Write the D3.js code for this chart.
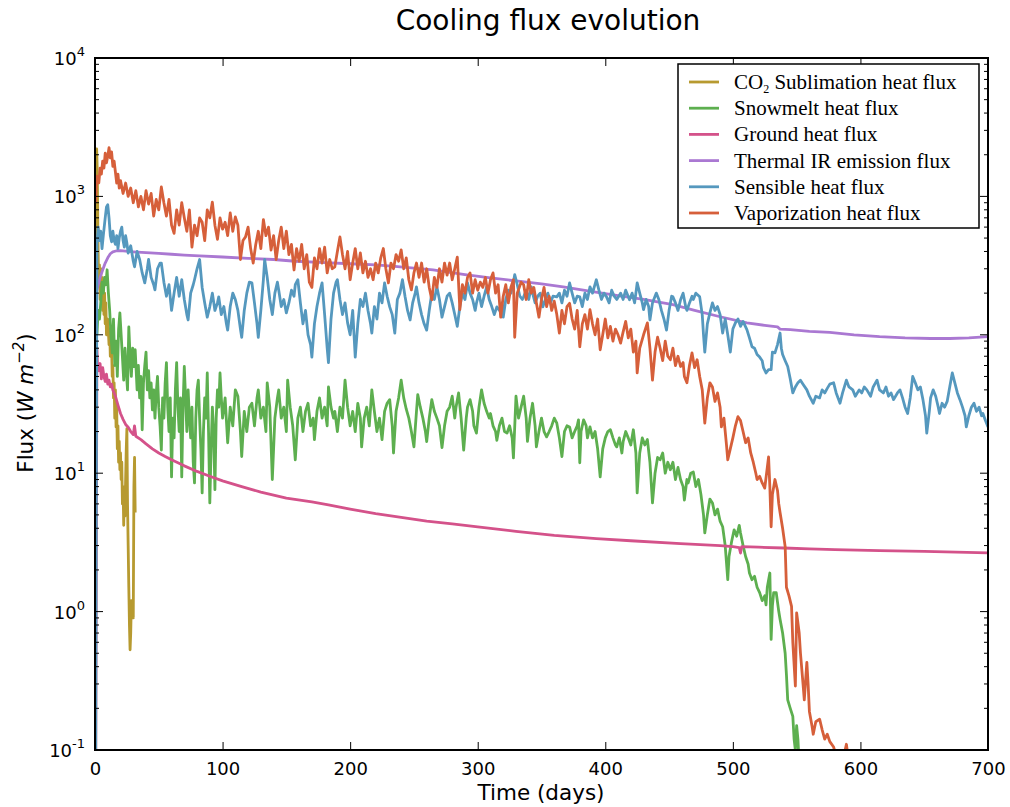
<!DOCTYPE html>
<html>
<head>
<meta charset="utf-8">
<script src="https://cdn.jsdelivr.net/npm/d3@7"></script>
<style>
  body { margin: 0; background: #fff; }
  text { font-family: "DejaVu Sans", sans-serif; }
  text.legend { font-family: "Liberation Serif", "Times New Roman", serif; }
</style>
</head>
<body>
<div id="chart"></div>
<script>
// series as [day, flux W m^-2]
var co2Sublimation = [[0.3,120],[0.8,800],[1.3,2200],[1.8,1500],[2.3,500],[2.8,250],[3.5,320],[4,180],[4.5,300],[5,170],[5.5,260],[6,150],[6.5,230],[7,140],[7.5,200],[8,120],[8.5,170],[9,100],[10,130],[11,85],[11.5,110],[12,70],[13,82],[13.5,50],[14,60],[14.5,35],[15,45],[15.5,25],[16,40],[16.5,21.6],[17,30],[17.5,15],[18,22],[18.5,12],[19,17],[19.5,10.6],[20,14],[20.5,9],[21,12],[21.5,6],[22,8],[22.5,4.2],[23,7],[23.5,4.9],[24,9],[24.5,15],[25,21],[25.5,6],[26,3],[26.5,1.5],[27,0.8],[27.5,0.53],[28,0.7],[28.5,1.2],[29,0.9],[29.5,1.1],[30,0.9],[30.5,8],[31,13],[31.5,5.2]];

var snowmelt = [[1.5,100],[2.5,150],[3.5,130],[4.5,170],[5.5,240],[6.5,200],[7.5,260],[8.5,230],[9.5,295],[10.5,200],[11.5,150],[12.5,100],[13.5,74],[14.5,130],[15.5,60],[16.5,90],[17.5,50],[18.5,110],[19.5,144],[20.5,100],[21.5,69],[22.5,47],[23.5,80],[24.5,55],[25.5,40],[26.5,114],[27.5,70],[28.5,50],[29.5,80],[30.5,59],[31.5,78],[33,40],[34,60],[35,35],[36,50],[37,20.6],[38,45],[39,60],[40,75],[41,40],[42,55],[43,35],[44,45],[45,28.7],[46,40],[47,25],[48,38],[49,50],[50,30],[51,22],[52,14.7],[53,35],[54,25],[55,45],[56,63],[57,30],[58,20],[59,35],[60,9.4],[61,25],[62,18],[63,40],[64,63],[65,30],[66,20],[67,35],[68,9.4],[69,30],[70,59],[71,35],[72,20],[73,40],[74,25],[75,18],[76,30],[77,12],[78,8.5],[79,25],[80,40],[81,47],[82,25],[83,15],[84,7.2],[85,20],[86,35],[87,25],[88,53],[89,20],[90,6.1],[91,15],[92,30],[93,20],[94,7.6],[95,25],[96,40],[97,30],[98,53],[99,35],[100,25],[102,35],[104,16.6],[106,30],[108,22],[110,40],[112,36],[114,20],[115,13.2],[117,28],[119,20],[121,30],[123,32],[125,22],[127,35],[128,40],[130,25],[132,30],[134,20],[135,45],[137,30],[139,9],[141,25],[143,35],[144,40],[146,25],[148,30],[150,20],[151,47],[153,30],[155,22],[157,12.5],[159,25],[161,30],[163,20],[165,28],[167,32],[169,22],[171,25],[172,17.5],[174,28],[176,35],[178,25],[180,30],[182,22],[183,42],[185,30],[187,25],[188,28],[190,20],[192,30],[194,25],[196,47],[198,30],[200,22],[202,28],[204,20],[206,32],[208,25],[209,15.5],[211,25],[213,30],[215,22],[217,40],[219,28],[221,20],[223,25],[225,17.5],[227,28],[229,32],[231,34],[233,22],[234,14],[236,28],[238,35],[240,47],[242,35],[244,29],[246,25],[248,20],[250,15.5],[252,28],[253,37],[255,30],[257,25],[259,20],[260,16.9],[262,25],[264,34],[266,28],[268,25],[270,22],[272,15.3],[274,22],[276,28],[278,30],[280,36],[282,25],[283,30],[285,38],[287,25],[289,14.7],[291,25],[292,30],[294,34],[296,28],[297,22],[299,19.5],[301,30],[303,40],[305,32],[307,28],[309,25],[310,27],[312,22],[314,20],[315,17.3],[317,22],[319,25],[321,20],[323,19.5],[325,22],[327,18],[328,12.9],[330,36],[332,25],[334,30],[336,36],[338,25],[339,17],[341,25],[343,32],[345,22],[346,15.5],[348,20],[350,25],[352,20],[354,18.3],[356,20],[358,22],[360,25],[362,23],[364,18],[366,13.2],[368,20],[370,22],[372,21.6],[374,18],[376,20],[378,22],[379,24.3],[380,11.9],[381,20],[383,24.3],[385,22],[386,18],[388,21.6],[390,18],[392,20],[394,15],[396,9.4],[398,15],[400,18],[402,20],[404,20.6],[406,18],[408,16],[409,15.5],[411,18],[413,14],[414,16.9],[416,20],[418,18],[420,16],[422,20.6],[424,14],[425,7.2],[427,14],[429,18],[431,16],[433,17.5],[435,12],[437,6.1],[439,10],[441,13],[443,12.5],[445,14],[447,10],[449,12],[451,10.6],[453,12],[455,9],[457,11],[459,9],[461,8],[462,6.4],[464,9],[465,8.5],[467,10],[469,10.2],[471,8],[473,9],[475,7],[477,5],[478,3.7],[480,5],[482,6.5],[484,6.1],[486,5],[488,5.5],[490,4.5],[492,4.1],[494,3],[496,1.7],[497,2.5],[499,3.2],[501,3.9],[503,3.5],[505,4.2],[506,3.7],[508,3],[510,2.5],[512,2.2],[513,1.9],[515,1.7],[517,1.8],[519,1.5],[521,1.37],[523,1.2],[525,1.3],[526,1.12],[527,1.5],[529,1.9],[530,0.63],[531,1.1],[532,1.37],[534,1.37],[536,1.0],[537,0.88],[539,0.7],[541,0.5],[542,0.35],[543,0.23],[545,0.2],[547,0.175],[548,0.12],[549,0.1],[550,0.15],[551,0.12],[552,0.08],[553,0.05]];

var groundHeat = [[0.5,0.05],[1.5,80],[2,60],[3,55],[4,62],[5,48],[6,58],[7,50],[8,46],[9,52],[10,44],[11,47],[12,42],[13,44],[14,40],[15,38],[16,36],[18,31],[20,27],[22,24.5],[24,22.5],[26,21.5],[28,20],[30,19],[31,22],[32,18.5],[36,17.5],[40,16.3],[45,15],[50,14],[55,13.2],[60,12.5],[65,11.9],[70,11.3],[80,10.3],[90,9.5],[100,8.8],[115,8.0],[130,7.3],[150,6.6],[170,6.2],[183,5.9],[200,5.5],[220,5.1],[240,4.8],[260,4.5],[280,4.3],[300,4.1],[330,3.8],[360,3.55],[393,3.37],[420,3.25],[459,3.1],[490,3.0],[500,2.95],[505,2.9],[506,2.65],[507,2.95],[520,2.92],[540,2.88],[560,2.84],[580,2.8],[615,2.76],[650,2.72],[700,2.66]];

var thermalIR = [[1.5,210],[2.5,230],[4,260],[6,294],[8,330],[10,360],[12,385],[14,398],[17,405],[20,405],[30,398],[40,392],[50,387],[60,382],[70,377],[82,372],[100,365],[120,357],[140,350],[157,340],[180,332],[200,326],[220,320],[235,312],[250,303],[265,294],[290,272],[310,258],[330,245],[350,233],[367,222],[390,205],[410,192],[430,180],[453,165],[470,150],[490,135],[511,122],[525,117],[535,114],[537,110],[545,109],[560,106],[576,104],[595,100],[615,97],[635,95],[655,94],[670,94],[685,95],[700,97]];

var sensibleHeat = [[0.5,0.05],[1.5,450],[2.5,600],[3.5,480],[4.5,560],[5.5,420],[6.5,520],[8,700],[9,840],[10,870],[11,700],[12,520],[13,470],[14,560],[15,480],[16,450],[17,520],[18,420],[19,500],[20,560],[21,600],[22,480],[23,430],[24,520],[25,460],[26,390],[28,440],[30,340],[31,310],[33,400],[35,350],[37,280],[39,237],[41,300],[42,350],[44,260],[46,230],[47,211],[49,300],[51,330],[52,330],[54,240],[56,190],[58,230],[60,150],[62,200],[64,260],[66,190],[68,250],[70,180],[72,140],[73,128],[75,200],[77,230],[78,250],[80,300],[82,350],[84,220],[86,170],[88,134],[90,160],[92,200],[94,150],[96,170],[97,188],[99,140],[101,160],[103,120],[104,108],[106,160],[108,200],[110,180],[112,150],[114,110],[115,96],[117,150],[119,200],[121,240],[123,237],[125,170],[127,120],[128,96],[130,150],[132,250],[133,350],[135,260],[137,180],[139,140],[141,200],[143,240],[144,211],[146,160],[148,180],[150,144],[152,170],[154,210],[156,190],[157,230],[159,250],[161,170],[163,120],[165,150],[167,100],[169,85],[170,69],[172,120],[174,160],[176,200],[178,237],[180,140],[182,80],[183,63],[185,130],[187,200],[189,240],[190,250],[192,180],[194,140],[196,170],[198,122],[200,100],[202,150],[204,69],[206,120],[208,180],[210,160],[212,200],[214,150],[216,120],[217,103],[219,160],[221,130],[223,200],[225,170],[227,237],[229,190],[231,159],[233,140],[235,103],[237,180],[239,200],[241,250],[243,190],[245,150],[247,128],[249,170],[251,200],[252,222],[254,170],[256,140],[258,120],[260,108],[262,150],[264,200],[266,180],[268,222],[270,180],[272,134],[274,160],[276,190],[278,200],[280,170],[282,140],[284,115],[286,160],[288,200],[290,180],[292,237],[294,200],[296,180],[298,150],[299,169],[301,200],[303,160],[305,190],[307,222],[309,180],[311,160],[313,140],[315,159],[317,150],[319,170],[320,134],[322,180],[324,210],[326,200],[328,240],[329,272],[331,230],[333,190],[335,180],[336,188],[338,210],[340,180],[342,222],[343,200],[345,170],[347,190],[349,200],[351,159],[353,180],[355,200],[357,170],[359,190],[362,188],[364,200],[366,170],[368,210],[370,190],[372,237],[374,200],[376,170],[378,190],[380,188],[382,160],[384,200],[386,180],[388,222],[390,200],[393,250],[395,210],[397,180],[399,200],[401,188],[403,170],[405,210],[407,190],[409,180],[412,200],[414,180],[416,210],[419,179],[421,200],[423,170],[425,237],[427,200],[429,170],[430,152],[432,180],[434,160],[435,128],[437,170],[439,190],[440,200],[442,180],[444,150],[446,130],[448,108],[450,150],[452,190],[453,188],[455,170],[457,150],[459,179],[461,200],[463,160],[464,150],[466,170],[468,190],[469,180],[471,200],[474,188],[476,140],[477,100],[478,75],[480,120],[482,144],[484,170],[486,150],[488,160],[490,140],[492,103],[494,130],[496,100],[498,75],[500,110],[502,122],[504,130],[506,115],[508,125],[511,109],[513,95],[515,82],[517,80],[519,72],[521,69],[523,65],[524,58],[526,53],[528,56],[530,56],[531,75],[533,74],[535,85],[537,103],[538,80],[539,72],[541,65],[543,59],[545,48],[547,38],[549,42],[551,45],[553,47],[555,44],[558,40],[560,36],[563,32],[565,36],[568,35],[570,40],[572,38],[574,41],[576,44],[579,45],[581,38],[584,32],[586,38],[589,47],[591,42],[594,40],[596,36],[599,40],[601,38],[603,42],[605,40],[608,36],[610,42],[613,47],[615,40],[618,38],[620,42],[622,36],[624,38],[626,34],[629,38],[631,40],[633,35],[635,30],[637,27],[639,35],[641,50],[643,45],[645,40],[647,42],[649,34],[651,26],[652,19.5],[654,28],[655,35],[657,40],[659,36],[661,30],[662,27],[664,32],[666,30],[668,33],[670,42],[672,53],[674,45],[676,38],[678,34],[680,30],[682,26],[683,21.6],[685,26],[687,30],[689,32],[691,28],[693,30],[695,26],[696,27],[698,24],[700,21.6]];

var vaporization = [[0.5,900],[1.5,1400],[3,1250],[4,1600],[5,1450],[6,1800],[7,1600],[8,2050],[9,1750],[10,1950],[11,2250],[12,1900],[13,2100],[14,1650],[15,1800],[16,1500],[17,1250],[18,1450],[19,1150],[20,1300],[22,1050],[24,1250],[26,1000],[28,1150],[30,900],[32,1100],[34,840],[36,1000],[38,800],[40,1100],[42,880],[44,1050],[46,720],[48,950],[50,800],[52,1170],[54,900],[56,720],[58,950],[60,620],[62,540],[64,800],[66,620],[68,900],[70,700],[72,560],[74,800],[76,430],[78,620],[80,520],[82,700],[84,650],[86,480],[88,800],[90,700],[92,910],[94,620],[96,490],[98,700],[100,580],[102,650],[104,520],[106,760],[108,560],[110,710],[112,620],[114,350],[116,480],[118,510],[120,600],[122,420],[124,330],[126,450],[128,560],[130,420],[132,680],[134,520],[136,600],[138,410],[140,520],[142,350],[144,480],[146,600],[148,420],[150,560],[152,380],[154,450],[156,294],[158,420],[160,340],[162,450],[164,300],[166,380],[168,240],[170,220],[172,360],[174,300],[176,420],[178,330],[180,430],[182,280],[184,350],[186,300],[188,310],[190,400],[192,510],[194,380],[196,300],[198,400],[200,250],[202,330],[204,420],[206,300],[208,390],[210,280],[212,340],[214,260],[216,300],[218,250],[220,330],[222,280],[224,360],[226,420],[228,300],[230,237],[232,330],[234,300],[236,380],[238,340],[240,411],[242,300],[244,360],[246,250],[248,211],[250,280],[252,330],[254,260],[256,330],[258,240],[260,300],[262,220],[264,179],[266,260],[268,220],[270,300],[272,240],[274,330],[276,270],[278,330],[280,250],[282,300],[284,364],[286,152],[288,230],[290,200],[292,260],[294,280],[296,200],[298,250],[300,210],[302,240],[304,220],[306,260],[308,200],[310,250],[312,280],[314,200],[316,230],[318,134],[320,190],[322,230],[324,170],[326,220],[328,250],[329,96],[331,200],[334,240],[336,230],[338,180],[340,250],[342,200],[344,220],[346,170],[348,134],[350,180],[352,220],[354,160],[356,190],[358,150],[360,175],[362,140],[364,103],[366,150],[368,120],[370,160],[372,169],[374,130],[376,110],[378,150],[380,82],[382,120],[384,140],[386,110],[388,152],[390,120],[392,100],[394,130],[396,78],[398,100],[400,130],[402,95],[404,115],[406,90],[408,110],[410,100],[412,87],[414,105],[416,125],[418,95],[420,110],[422,75],[424,90],[425,53],[427,80],[430,100],[433,122],[435,80],[437,47],[439,75],[441,96],[443,80],[445,65],[447,90],[449,70],[451,66],[453,80],[455,60],[457,70],[459,59],[461,63],[462,50],[464,45],[466,60],[468,74],[470,58],[472,66],[474,50],[476,40],[478,23],[480,35],[482,45],[484,42],[486,33],[488,38],[490,30],[491,21.6],[493,25],[495,16],[496,12.5],[498,15],[500,18],[502,22],[504,25.6],[506,24],[508,20],[510,16.6],[512,18],[514,14],[516,12],[518,10],[519,9],[521,9.5],[523,8.5],[525,7.8],[527,11],[528,13.1],[529,8],[530,4.1],[531,7],[533,9],[535,7.5],[536,6],[537,5.2],[539,4],[541,2.95],[542,1.5],[544,1.3],[546,1.09],[547,0.6],[549,0.29],[550,0.98],[552,0.7],[553,0.5],[555,0.3],[556,0.23],[558,0.43],[559,0.3],[560,0.19],[562,0.15],[563,0.13],[565,0.16],[568,0.167],[570,0.14],[572,0.12],[574,0.13],[576,0.115],[579,0.105],[581,0.09],[584,0.07],[587,0.09],[589,0.11],[591,0.08],[595,0.06]];

var seriesNames = ["CO2 Sublimation heat flux", "Snowmelt heat flux", "Ground heat flux",
                   "Thermal IR emission flux", "Sensible heat flux", "Vaporization heat flux"];
var seriesData = [co2Sublimation, snowmelt, groundHeat, thermalIR, sensibleHeat, vaporization];
var colors = ["#b79a30", "#5daf4f", "#d4528a", "#aa78d2", "#5598be", "#d65f3a"];

var xTicks = [0, 100, 200, 300, 400, 500, 600, 700];
var yExponents = [-1, 0, 1, 2, 3, 4];

var w = 1010, h = 807;
var margin = {left: 95, right: 22, top: 58, bottom: 57};

var x = d3.scaleLinear().domain([0, 700]).range([margin.left, w - margin.right]);
var y = d3.scaleLog().domain([0.1, 10000]).range([h - margin.bottom, margin.top]);

var svg = d3.select("#chart")
            .append("svg")
            .attr("width", w)
            .attr("height", h);

svg.append("rect").attr("width", w).attr("height", h).attr("fill", "white");

svg.append("clipPath").attr("id", "plot-clip")
    .append("rect")
    .attr("x", margin.left).attr("y", margin.top)
    .attr("width", w - margin.left - margin.right)
    .attr("height", h - margin.top - margin.bottom);

var line = d3.line()
    .x(function(d) { return x(d[0]); })
    .y(function(d) { return y(d[1]); });

svg.append("g").attr("clip-path", "url(#plot-clip)")
    .selectAll("path")
    .data(seriesData)
    .enter()
    .append("path")
    .attr("d", line)
    .attr("fill", "none")
    .attr("stroke", function(d, i) { return colors[i]; })
    .attr("stroke-width", 2.8)
    .attr("stroke-linejoin", "round");

// ticks pointing inward on all four sides
var minorVals = [];
yExponents.forEach(function(e) {
    if (e < 4) for (var k = 2; k <= 9; k++) minorVals.push(k * Math.pow(10, e));
});

svg.append("g").attr("transform", "translate(0," + (h - margin.bottom) + ")")
    .call(d3.axisBottom(x).tickValues(xTicks).tickSize(-8).tickPadding(12).tickFormat(d3.format("d")))
    .call(function(g) { g.select(".domain").remove(); g.selectAll("text").attr("font-size", 18).attr("fill", "#000"); });
svg.append("g").attr("transform", "translate(0," + margin.top + ")")
    .call(d3.axisTop(x).tickValues(xTicks).tickSize(-8).tickFormat(""))
    .call(function(g) { g.select(".domain").remove(); });

var yMajor = yExponents.map(function(e) { return Math.pow(10, e); });
[[margin.left, 1], [w - margin.right, -1]].forEach(function(side) {
    var g = svg.append("g");
    g.selectAll("line.major").data(yMajor).enter().append("line")
        .attr("x1", side[0]).attr("x2", side[0] + side[1] * 8)
        .attr("y1", function(d) { return y(d); }).attr("y2", function(d) { return y(d); })
        .attr("stroke", "#000").attr("stroke-width", 1);
    g.selectAll("line.minor").data(minorVals).enter().append("line")
        .attr("x1", side[0]).attr("x2", side[0] + side[1] * 4)
        .attr("y1", function(d) { return y(d); }).attr("y2", function(d) { return y(d); })
        .attr("stroke", "#000").attr("stroke-width", 1);
});

var yLab = svg.append("g").selectAll("text")
    .data(yExponents)
    .enter()
    .append("text")
    .attr("x", margin.left - 10)
    .attr("y", function(d) { return y(Math.pow(10, d)) + 7; })
    .attr("text-anchor", "end")
    .attr("font-size", 18);
yLab.append("tspan").text("10");
yLab.append("tspan").attr("dy", -9).attr("font-size", 13).text(function(d) { return d; });

svg.append("rect")
    .attr("x", margin.left).attr("y", margin.top)
    .attr("width", w - margin.left - margin.right)
    .attr("height", h - margin.top - margin.bottom)
    .attr("fill", "none").attr("stroke", "#000").attr("stroke-width", 2);

svg.append("text").attr("x", 548).attr("y", 30)
    .attr("text-anchor", "middle").attr("font-size", 28).text("Cooling flux evolution");

svg.append("text").attr("x", 541).attr("y", 800)
    .attr("text-anchor", "middle").attr("font-size", 21.5).text("Time (days)");

var yTitle = svg.append("text")
    .attr("transform", "translate(33,403) rotate(-90)")
    .attr("text-anchor", "middle").attr("font-size", 21.5);
yTitle.append("tspan").text("Flux (");
yTitle.append("tspan").attr("font-style", "italic").text("W m");
yTitle.append("tspan").attr("dy", -9).attr("font-size", 15).attr("font-style", "italic").text("\u22122");
yTitle.append("tspan").attr("dy", 9).text(")");

// legend
var lg = svg.append("g").attr("transform", "translate(678,64)");
lg.append("rect").attr("width", 301).attr("height", 164)
    .attr("fill", "white").attr("stroke", "#000").attr("stroke-width", 1.5);
var rows = lg.selectAll("g.row").data(seriesNames).enter().append("g")
    .attr("transform", function(d, i) { return "translate(0," + (18 + i * 26.2) + ")"; });
rows.append("line").attr("x1", 11).attr("x2", 41)
    .attr("stroke", function(d, i) { return colors[i]; }).attr("stroke-width", 2.8);
var lt = rows.append("text").attr("class", "legend").attr("x", 56).attr("y", 7)
    .attr("font-size", 21);
lt.each(function(d) {
    var t = d3.select(this);
    if (d.indexOf("CO2") === 0) {
        t.append("tspan").text("CO");
        t.append("tspan").attr("dy", 4).attr("font-size", 12).text("2");
        t.append("tspan").attr("dy", -4).text(" " + d.slice(4));
    } else {
        t.text(d);
    }
});
</script>
</body>
</html>
